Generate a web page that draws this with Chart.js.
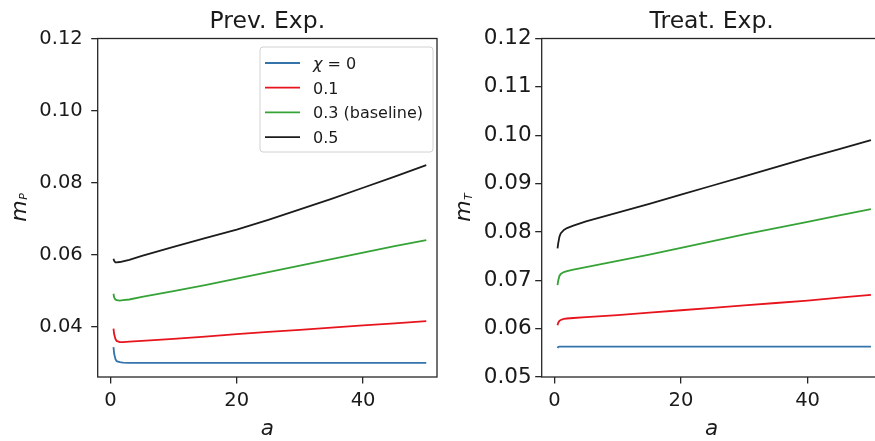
<!DOCTYPE html>
<html><head><meta charset="utf-8">
<script src="https://cdn.jsdelivr.net/npm/chart.js@4.4.1/dist/chart.umd.min.js"></script>
<style>
html,body{margin:0;padding:0;overflow:hidden;background:#fff;width:875px;height:441px;position:relative}
canvas{position:absolute;top:0}
#c1{left:0}
#c2{left:440px}
</style></head><body>
<canvas id="c1" width="440" height="441"></canvas>
<canvas id="c2" width="460" height="441"></canvas>
<script>
// ---- data ----
const aValues = [0.5, 0.6, 0.8, 1, 1.5, 2, 3, 5, 10, 15, 20, 25, 30, 35, 40, 45, 50];
const seriesLabels = ['χ = 0', '0.1', '0.3 (baseline)', '0.5'];

const prevChi0  = [0.0344, 0.0326, 0.0311, 0.0305, 0.0302, 0.0301, 0.0300, 0.0300, 0.0300, 0.0300, 0.0300, 0.0300, 0.0300, 0.0300, 0.0300, 0.0300, 0.0300];
const prevChi01 = [0.0395, 0.0380, 0.0367, 0.0361, 0.0358, 0.0358, 0.0359, 0.0361, 0.0367, 0.0373, 0.0380, 0.0386, 0.0392, 0.0398, 0.0404, 0.0410, 0.0416];
const prevChi03 = [0.0492, 0.0482, 0.0476, 0.0474, 0.0473, 0.0474, 0.0476, 0.0483, 0.0499, 0.0516, 0.0534, 0.0552, 0.0570, 0.0588, 0.0606, 0.0624, 0.0641];
const prevChi05 = [0.0589, 0.0583, 0.0579, 0.0579, 0.0580, 0.0582, 0.0586, 0.0597, 0.0622, 0.0646, 0.0670, 0.0697, 0.0726, 0.0755, 0.0786, 0.0817, 0.0849];

const treatChi0  = [0.0560, 0.0562, 0.0563, 0.0563, 0.0563, 0.0563, 0.0563, 0.0563, 0.0563, 0.0563, 0.0563, 0.0563, 0.0563, 0.0563, 0.0563, 0.0563, 0.0563];
const treatChi01 = [0.0607, 0.0612, 0.0616, 0.0618, 0.0620, 0.0621, 0.0622, 0.0624, 0.0628, 0.0633, 0.0638, 0.0643, 0.0648, 0.0653, 0.0658, 0.0664, 0.0670];
const treatChi03 = [0.0690, 0.0699, 0.0709, 0.0713, 0.0717, 0.0719, 0.0722, 0.0727, 0.0740, 0.0753, 0.0767, 0.0781, 0.0795, 0.0808, 0.0821, 0.0834, 0.0847];
const treatChi05 = [0.0766, 0.0776, 0.0790, 0.0797, 0.0804, 0.0808, 0.0813, 0.0822, 0.0840, 0.0858, 0.0877, 0.0896, 0.0915, 0.0934, 0.0953, 0.0971, 0.0990];

const xTicks = [0, 20, 40];
const prevYTicks = [0.04, 0.06, 0.08, 0.10, 0.12];
const treatYTicks = [0.05, 0.06, 0.07, 0.08, 0.09, 0.10, 0.11, 0.12];

// ---- style ----
const seriesColors = ['#3574aa', '#e8141d', '#36a336', '#1c1c1c'];
const FONT = '"DejaVu Sans", sans-serif';
const INK = '#1a1a1a';

const decor = {
  id: 'decor',
  afterDatasetsDraw(chart, args, opts) {
    const {ctx, chartArea: ca} = chart;
    ctx.save();
    // frame
    ctx.strokeStyle = '#262626';
    ctx.lineWidth = 1.3;
    ctx.strokeRect(ca.left, ca.top, ca.right - ca.left, ca.bottom - ca.top);
    // title
    ctx.fillStyle = INK;
    ctx.font = '23.5px ' + FONT;
    ctx.textAlign = 'center';
    ctx.textBaseline = 'alphabetic';
    ctx.fillText(opts.title, (ca.left + ca.right) / 2, 27.5);
    // y label (m with subscript)
    ctx.save();
    ctx.translate(opts.ylabelX, (ca.top + ca.bottom) / 2);
    ctx.rotate(-Math.PI / 2);
    const f1 = 'italic 22px ' + FONT, f2 = 'italic 11px ' + FONT;
    ctx.font = f1; const w1 = ctx.measureText(opts.ylabel).width;
    ctx.font = f2; const w2 = ctx.measureText(opts.ysub).width;
    const x0 = -(w1 + w2) / 2;
    ctx.textAlign = 'left';
    ctx.font = f1; ctx.fillText(opts.ylabel, x0, 0);
    ctx.font = f2; ctx.fillText(opts.ysub, x0 + w1 + 0.5, 1.5);
    ctx.restore();
    // legend
    if (opts.legend) {
      const L = opts.legend;
      ctx.fillStyle = 'rgba(255,255,255,0.85)';
      ctx.strokeStyle = '#d2d2d2';
      ctx.lineWidth = 1;
      ctx.beginPath();
      if (ctx.roundRect) ctx.roundRect(L.x, L.y, L.w, L.h, 3); else ctx.rect(L.x, L.y, L.w, L.h);
      ctx.fill(); ctx.stroke();
      chart.data.datasets.forEach((ds, i) => {
        const yy = L.y + 16 + i * 24.7;
        ctx.strokeStyle = ds.borderColor;
        ctx.lineWidth = 1.8;
        ctx.beginPath(); ctx.moveTo(L.x + 5, yy); ctx.lineTo(L.x + 40, yy); ctx.stroke();
        ctx.fillStyle = INK;
        ctx.textAlign = 'left';
        ctx.textBaseline = 'alphabetic';
        let tx = L.x + 53;
        let label = ds.label;
        if (label.startsWith('χ')) {
          ctx.font = 'italic 16px ' + FONT;
          ctx.fillText('χ', tx, yy + 6);
          tx += ctx.measureText('χ').width;
          label = label.slice(1);
        }
        ctx.font = '16px ' + FONT;
        ctx.fillText(label, tx, yy + 6);
      });
    }
    ctx.restore();
  }
};

function makeChart(id, series, cfg) {
  return new Chart(document.getElementById(id), {
    type: 'line',
    data: {
      datasets: series.map((s, k) => ({
        label: seriesLabels[k],
        data: aValues.map((a, i) => ({x: a, y: s[i]})),
        borderColor: seriesColors[k],
        borderWidth: 1.8,
        pointRadius: 0,
        tension: 0,
        fill: false
      }))
    },
    options: {
      responsive: false,
      animation: false,
      events: [],
      layout: {padding: {top: 38.5, right: cfg.padRight, bottom: 0, left: 0}},
      plugins: {
        legend: {display: false},
        tooltip: {enabled: false},
        title: {display: false},
        decor: {title: cfg.title, ylabel: 'm', ysub: cfg.ysub, ylabelX: cfg.ylabelX, legend: cfg.legend}
      },
      scales: {
        x: {
          type: 'linear', min: -2, max: 51.7,
          afterBuildTicks: s => { s.ticks = xTicks.map(v => ({value: v})); },
          afterFit: s => { s.height = 64; },
          grid: {display: true, drawOnChartArea: false, drawTicks: true, tickLength: 6.5, color: '#262626', lineWidth: 1.3},
          border: {display: false},
          ticks: {font: {family: FONT, size: 19.5}, color: INK, padding: 6, maxRotation: 0, callback: v => String(v)},
          title: {display: true, text: 'a', color: INK, font: {family: FONT, size: 21.5, style: 'italic', lineHeight: 1.1}, padding: {top: 0, bottom: 0}}
        },
        y: {
          type: 'linear', min: cfg.ymin, max: 0.12,
          afterBuildTicks: s => { s.ticks = cfg.yTicks.map(v => ({value: v})); },
          afterFit: s => { s.width = cfg.yWidth; },
          grid: {display: true, drawOnChartArea: false, drawTicks: true, tickLength: 6.5, color: '#262626', lineWidth: 1.3},
          border: {display: false},
          ticks: {font: {family: FONT, size: cfg.yFont}, color: INK, padding: cfg.yPad, callback: v => v.toFixed(2)}
        }
      }
    },
    plugins: [decor]
  });
}

makeChart('c1', [prevChi0, prevChi01, prevChi03, prevChi05], {
  title: 'Prev. Exp.', ysub: 'P', ylabelX: 25.5, ymin: 0.0261, yTicks: prevYTicks,
  yWidth: 97.7, padRight: 3, yFont: 19.5, yPad: 8.5,
  legend: {x: 260, y: 47, w: 173, h: 105}
});
makeChart('c2', [treatChi0, treatChi01, treatChi03, treatChi05], {
  title: 'Treat. Exp.', ysub: 'T', ylabelX: 30, ymin: 0.05, yTicks: treatYTicks,
  yWidth: 101.7, padRight: 18.3, yFont: 21.5, yPad: 3.5,
  legend: null
});
</script>
</body></html>
